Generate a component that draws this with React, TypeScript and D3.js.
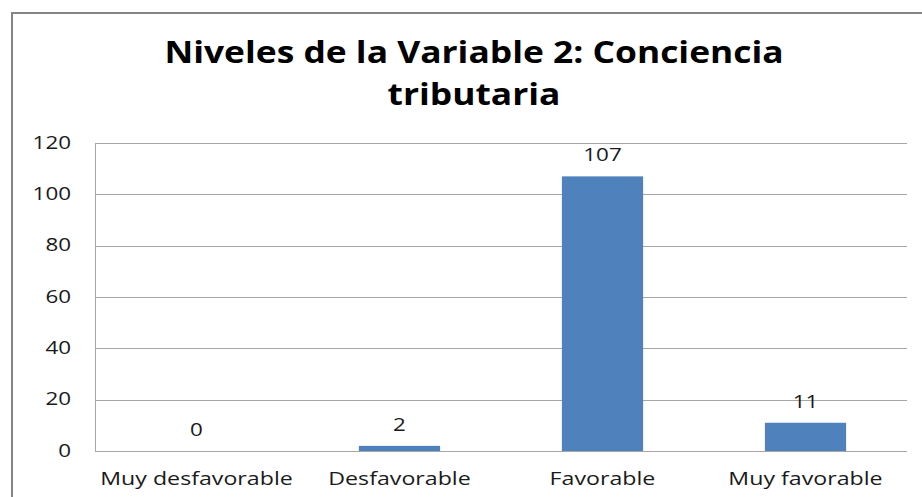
import React, { useRef, useEffect } from "react";
import * as d3 from "d3";

const categories = ["Muy desfavorable", "Desfavorable", "Favorable", "Muy favorable"];
const values = [0, 2, 107, 11];
const yTicks = [0, 20, 40, 60, 80, 100, 120];
const titleLines = ["Niveles de la Variable 2: Conciencia", "tributaria"];

const App = () => {
  const ref = useRef<SVGSVGElement>(null);

  useEffect(() => {
    const w = 922;
    const h = 497;
    const m = { left: 95, right: 907, top: 143, bottom: 451 };
    const font = "Open Sans, Noto Sans, sans-serif";
    // the reference text is a bit stretched horizontally
    const at = (x: number, y: number, s: number) => `translate(${x},${y}) scale(${s},1)`;

    const svg = d3.select(ref.current);
    svg.selectAll("*").remove();

    svg.append("rect").attr("width", w).attr("height", h).attr("fill", "white");

    // chart frame (only left and top visible)
    svg.append("path")
      .attr("d", `M12,${h + 5}V13H${w + 5}`)
      .attr("fill", "none")
      .attr("stroke", "#858585")
      .attr("stroke-width", 2);

    const x = d3.scaleBand().domain(categories).range([m.left, m.right]).paddingInner(0.6).paddingOuter(0.3);
    const y = d3.scaleLinear().domain([0, 120]).range([m.bottom, m.top]);

    // gridlines
    svg.append("g")
      .selectAll("line")
      .data(yTicks)
      .join("line")
      .attr("x1", m.left)
      .attr("x2", m.right)
      .attr("y1", (d) => Math.round(y(d)) + 0.5)
      .attr("y2", (d) => Math.round(y(d)) + 0.5)
      .attr("stroke", "#a6a6a6");

    svg.append("line")
      .attr("x1", m.left + 0.5).attr("x2", m.left + 0.5)
      .attr("y1", m.top).attr("y2", m.bottom)
      .attr("stroke", "#a6a6a6");

    // y tick labels
    svg.append("g")
      .selectAll("text")
      .data(yTicks)
      .join("text")
      .attr("transform", (d) => at(71, y(d) + 5.5, 1.28))
      .attr("text-anchor", "end")
      .attr("font-family", font)
      .attr("font-size", 17.5)
      .attr("fill", "#1a1a1a")
      .text((d) => d);

    // bars
    svg.append("g")
      .selectAll("rect")
      .data(values)
      .join("rect")
      .attr("x", (d, i) => x(categories[i])!)
      .attr("width", x.bandwidth())
      .attr("y", (d) => y(d))
      .attr("height", (d) => y(0) - y(d))
      .attr("fill", "#4f81bd");

    // value labels
    svg.append("g")
      .selectAll("text")
      .data(values)
      .join("text")
      .attr("transform", (d, i) => at(x(categories[i])! + x.bandwidth() / 2, y(d) - 15, 1.28))
      .attr("text-anchor", "middle")
      .attr("font-family", font)
      .attr("font-size", 17.5)
      .attr("fill", "#1a1a1a")
      .text((d) => d);

    // category labels
    svg.append("g")
      .selectAll("text")
      .data(categories)
      .join("text")
      .attr("transform", (d) => at(x(d)! + x.bandwidth() / 2, 485, 1.22))
      .attr("text-anchor", "middle")
      .attr("font-family", font)
      .attr("font-size", 19)
      .attr("fill", "#1a1a1a")
      .text((d) => d);

    // title
    svg.append("g")
      .selectAll("text")
      .data(titleLines)
      .join("text")
      .attr("transform", (d, i) => at(474, 63 + i * 42, 1.16))
      .attr("text-anchor", "middle")
      .attr("font-family", font)
      .attr("font-weight", "bold")
      .attr("font-size", 30.5)
      .attr("fill", "#000")
      .text((d) => d);
  }, []);

  return (
    <svg
      ref={ref}
      width={922}
      height={497}
      style={{ position: "absolute", left: 0, top: 0, display: "block" }}
    />
  );
};

export default App;
